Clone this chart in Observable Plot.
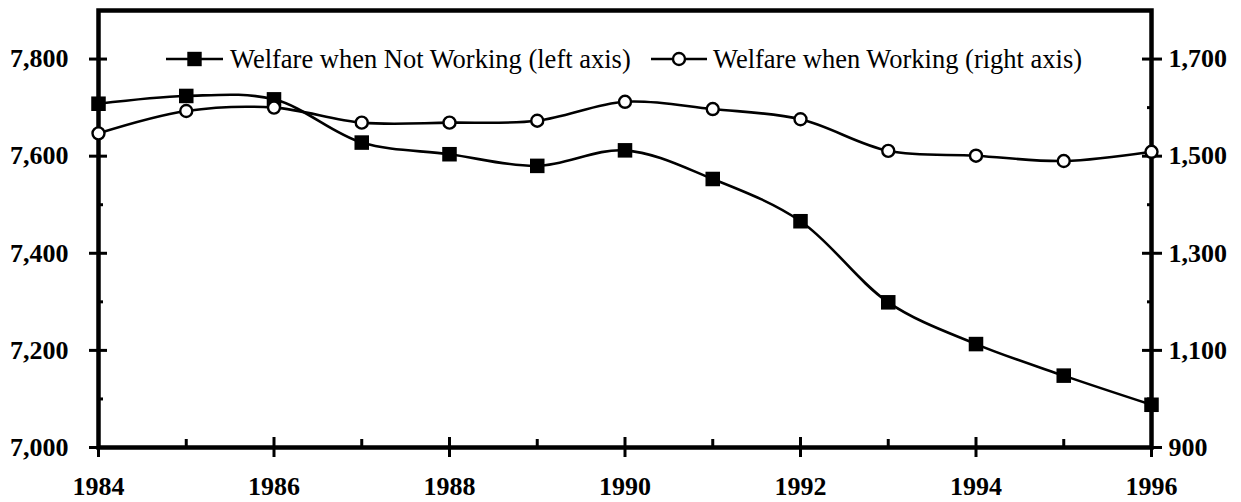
<!DOCTYPE html>
<html><head><meta charset="utf-8">
<script src="https://cdn.jsdelivr.net/npm/d3@7"></script>
<script src="https://cdn.jsdelivr.net/npm/@observablehq/plot@0.6"></script>
<style>
body{margin:0;background:#fff;}
#wrap{position:relative;width:1241px;height:502px;font-family:"Liberation Serif","Times New Roman",serif;}
.legsym{position:absolute;top:44px;height:30px;}
.legtxt{position:absolute;top:44px;height:30px;line-height:30px;font-size:26.5px;color:#000;white-space:nowrap;}
</style></head><body><div id="wrap"></div>
<script>
const years = [1984,1985,1986,1987,1988,1989,1990,1991,1992,1993,1994,1995,1996];
const notWorking = [7708,7724,7717,7628,7604,7580,7612,7553,7466,7299,7213,7148,7088];
const working = [1547,1593,1600,1569,1569,1573,1612,1597,1576,1511,1501,1490,1509];
const seriesNames = ["Welfare when Not Working (left axis)", "Welfare when Working (right axis)"];
const leftDomain = [7000,7900];
const rightDomain = [900,1800];
const leftTicks = [7000,7200,7400,7600,7800];
const leftMinor = [7100,7300,7500,7700];
const rightTicks = [900,1100,1300,1500,1700];
const rightMinor = [1000,1200,1400,1600];
const yearMajor = [1984,1986,1988,1990,1992,1994,1996];
const yearMinor = [1985,1987,1989,1991,1993,1995];

const offset = leftDomain[0] - rightDomain[0];
const fmt = d3.format(",");
const nw = years.map((year,i)=>({year, value: notWorking[i]}));
const wk = years.map((year,i)=>({year, value: working[i] + offset}));
const none = () => "";

const chart = Plot.plot({
  width:1241, height:502,
  marginLeft:98, marginRight:90, marginTop:10, marginBottom:55,
  x:{domain:[years[0], years[years.length-1]], label:null},
  y:{domain:leftDomain, label:null},
  style:{fontFamily:'"Liberation Serif","Times New Roman",serif', fontSize:"26px", fontWeight:"bold", color:"#000", background:"#fff", overflow:"visible"},
  marks:[
    Plot.axisY(leftTicks,{anchor:"left", tickSize:9, tickPadding:21, tickFormat:fmt, strokeWidth:3, label:null}),
    Plot.axisY(leftTicks,{anchor:"left", tickSize:9, dx:9, tickFormat:none, strokeWidth:3, label:null}),
    Plot.axisY(leftMinor,{anchor:"left", tickSize:5, dx:5, tickFormat:none, strokeWidth:3, label:null}),
    Plot.axisY(rightTicks.map(d=>d+offset),{anchor:"right", tickSize:10, tickPadding:7, tickFormat:d=>fmt(d-offset), strokeWidth:3, label:null}),
    Plot.axisY(rightTicks.map(d=>d+offset),{anchor:"right", tickSize:10, dx:-10, tickFormat:none, strokeWidth:3, label:null}),
    Plot.axisY(rightMinor.map(d=>d+offset),{anchor:"right", tickSize:5, dx:-5, tickFormat:none, strokeWidth:3, label:null}),
    Plot.axisX(yearMajor,{anchor:"bottom", tickSize:10, tickPadding:19, tickFormat:d=>String(d), strokeWidth:3, label:null}),
    Plot.axisX(yearMajor,{anchor:"bottom", tickSize:10, dy:-10, tickFormat:none, strokeWidth:3, label:null}),
    Plot.axisX(yearMinor,{anchor:"bottom", tickSize:8, dy:-8, tickFormat:none, strokeWidth:3, label:null}),
    Plot.frame({strokeWidth:4.5}),
    Plot.line(nw,{x:"year", y:"value", curve:"catmull-rom", stroke:"black", strokeWidth:2.6}),
    Plot.line(wk,{x:"year", y:"value", curve:"catmull-rom", stroke:"black", strokeWidth:2.6}),
    Plot.dot(nw,{x:"year", y:"value", symbol:"square", r:8.2, fill:"black", stroke:"none"}),
    Plot.dot(wk,{x:"year", y:"value", symbol:"circle", r:6, fill:"white", stroke:"black", strokeWidth:2.4})
  ]
});
const wrap = document.getElementById("wrap");
wrap.appendChild(chart);

// legend (inside plot area, top)
const leg = [
  {sym:"square", symLeft:166, symW:57, txtLeft:230, name:seriesNames[0]},
  {sym:"circle", symLeft:651, symW:56, txtLeft:713, name:seriesNames[1]}
];
for (const l of leg) {
  const s = document.createElementNS("http://www.w3.org/2000/svg","svg");
  s.setAttribute("class","legsym");
  s.setAttribute("width", l.symW); s.setAttribute("height", 30);
  s.style.left = l.symLeft + "px";
  const c = l.symW/2;
  s.innerHTML = `<line x1="0" x2="${l.symW}" y1="15" y2="15" stroke="black" stroke-width="2.6"/>` +
    (l.sym === "square"
      ? `<rect x="${c-7.2}" y="${15-7.2}" width="14.4" height="14.4" fill="black"/>`
      : `<circle cx="${c}" cy="15" r="6" fill="white" stroke="black" stroke-width="2.4"/>`);
  wrap.appendChild(s);
  const t = document.createElement("div");
  t.className = "legtxt";
  t.style.left = l.txtLeft + "px";
  t.textContent = l.name;
  wrap.appendChild(t);
}
</script></body></html>
